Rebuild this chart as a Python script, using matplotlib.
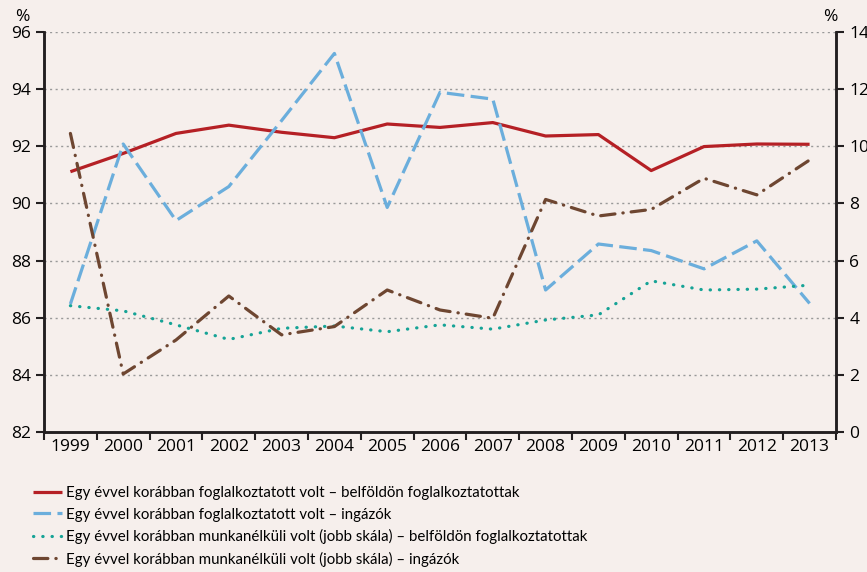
import numpy as np
import matplotlib.pyplot as plt
from matplotlib.ticker import FixedLocator

years = [str(y) for y in range(1999, 2014)]

# left scale
empl_domestic = [91.11, 91.75, 92.45, 92.74, 92.49, 92.30, 92.78, 92.66, 92.83,
                 92.36, 92.41, 91.15, 91.99, 92.08, 92.07]
empl_commuter = [86.48, 92.08, 89.40, 90.59, 92.90, 95.25, 89.86, 93.89, 93.65,
                 86.97, 88.58, 88.35, 87.71, 88.69, 86.50]
# right scale
unemp_domestic = [4.42, 4.24, 3.75, 3.24, 3.63, 3.71, 3.51, 3.75, 3.60,
                  3.92, 4.10, 5.29, 4.97, 5.00, 5.14]
unemp_commuter = [10.45, 2.03, 3.22, 4.76, 3.40, 3.69, 4.97, 4.27, 3.98,
                  8.14, 7.56, 7.79, 8.88, 8.30, 9.52]

labels = [
    "Egy évvel korábban foglalkoztatott volt – belföldön foglalkoztatottak",
    "Egy évvel korábban foglalkoztatott volt – ingázók",
    "Egy évvel korábban munkanélküli volt (jobb skála) – belföldön foglalkoztatottak",
    "Egy évvel korábban munkanélküli volt (jobb skála) – ingázók",
]

bg = "#F6EFEC"
plt.rcParams['font.family'] = ['Open Sans', 'DejaVu Sans']

fig = plt.figure(figsize=(8.67, 5.72), dpi=100, facecolor=bg)
ax = fig.add_axes([44 / 867, 1 - 432 / 572, 792 / 867, 400 / 572])
ax.set_facecolor(bg)
ax2 = ax.twinx()

x = np.arange(len(years))
l1, = ax.plot(x, empl_domestic, color="#B52025", lw=2.3, solid_capstyle="butt")
l2, = ax.plot(x, empl_commuter, color="#6BAEDC", lw=2.3, dashes=(5.5, 2))
l3, = ax2.plot(x, unemp_domestic, color="#16A396", lw=2.3, dashes=(0.1, 2.8),
               dash_capstyle="round")
l4, = ax2.plot(x, unemp_commuter, color="#6E4631", lw=2.3,
               dashes=(4.5, 2.5, 0.1, 2.5), dash_capstyle="round")

ax.set_xlim(-0.5, len(years) - 0.5)
ax.set_ylim(82, 96)
ax.set_yticks(np.arange(82, 97, 2))
ax2.set_ylim(0, 14)
ax2.set_yticks(np.arange(0, 15, 2))

ax.xaxis.set_major_locator(FixedLocator(np.arange(-0.5, len(years), 1)))
ax.xaxis.set_minor_locator(FixedLocator(x))
ax.set_xticklabels([], minor=False)
ax.set_xticklabels(years, minor=True)
ax.tick_params(axis="x", which="major", length=6, width=1.5, color="#231F20")
ax.tick_params(axis="x", which="minor", length=0, labelsize=12.5, pad=5)
ax.tick_params(axis="y", length=6, width=1.5, color="#231F20", labelsize=12.5)
ax2.tick_params(axis="y", length=6, width=1.5, color="#231F20", labelsize=12.5)

ax.grid(axis="y", color="#999999", lw=1, linestyle=(0, (1.5, 2.5)))
ax.set_axisbelow(True)
for a in (ax, ax2):
    a.spines["top"].set_visible(False)
    for s in ("left", "right", "bottom"):
        a.spines[s].set_linewidth(1.8)
        a.spines[s].set_color("#231F20")

fig.text(22 / 867, 1 - 17 / 572, "%", fontsize=12.5, ha="center", va="center")
fig.text(830 / 867, 1 - 17 / 572, "%", fontsize=12.5, ha="center", va="center")

fig.legend([l1, l2, l3, l4], labels, loc="upper left",
           bbox_to_anchor=(27 / 867, 1 - 480 / 572), frameon=False,
           prop={"family": ["Lato", "Open Sans"], "size": 10.8},
           handlelength=1.9, handletextpad=0.3,
           labelspacing=0.5, borderaxespad=0)

fig.savefig("out.png", dpi=100, facecolor=bg)
